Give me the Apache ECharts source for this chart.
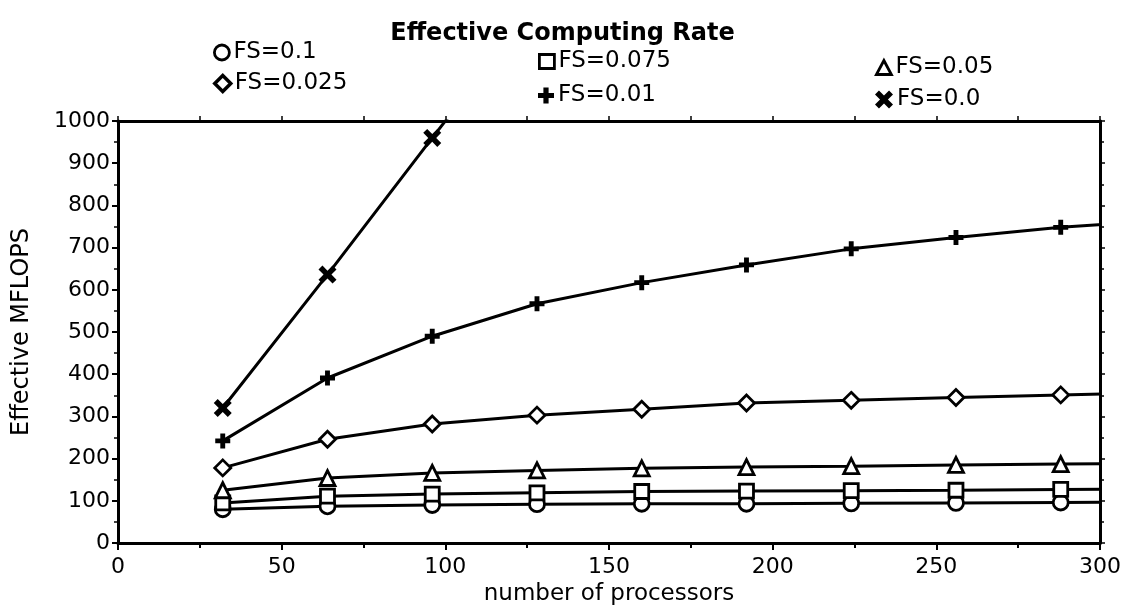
<!DOCTYPE html>
<html>
<head>
<meta charset="utf-8">
<script src="https://cdn.jsdelivr.net/npm/echarts@6/dist/echarts.min.js"></script>
<style>
html,body{margin:0;padding:0;background:#fff;}
#chart{width:1125px;height:616px;}
</style>
</head>
<body>
<div id="chart"></div>
<script>
// ---- data ----
const processors = [32, 64, 96, 128, 160, 192, 224, 256, 288, 320];
const fs0100 = [80, 87, 90, 92, 93, 93, 94, 95, 96, 97];
const fs0075 = [95, 111, 116, 119, 122, 123, 124, 125, 127, 128];
const fs0050 = [125, 154, 166, 172, 177, 180, 182, 185, 187, 189];
const fs0025 = [178, 246, 282, 303, 317, 332, 338, 345, 351, 357];
const fs0010 = [242, 391, 490, 567, 617, 659, 697, 724, 748, 765];
const fs0000 = [320, 636, 960, 1280];
const seriesNames = ['FS=0.1', 'FS=0.075', 'FS=0.05', 'FS=0.025', 'FS=0.01', 'FS=0.0'];
const xTicks = [0, 50, 100, 150, 200, 250, 300];
const yTicks = [0, 100, 200, 300, 400, 500, 600, 700, 800, 900, 1000];

const FONT = 'DejaVu Sans';
const PLUS = 'path://M2.7,0 H5.3 V2.7 H8 V5.3 H5.3 V8 H2.7 V5.3 H0 V2.7 H2.7 Z';
const CROSS = 'path://M0,2.2 L2.2,0 L5,2.8 L7.8,0 L10,2.2 L7.2,5 L10,7.8 L7.8,10 L5,7.2 L2.2,10 L0,7.8 L2.8,5 Z';

function pairs(vals) { return vals.map((v, i) => [processors[i], v]); }

const hollow = {color: '#fff', borderColor: '#000', borderWidth: 2.8};
const filled = {color: '#000', borderColor: '#000', borderWidth: 0};

function mkSeries(name, vals, symbol, size, style) {
  return {
    name: name, type: 'line', data: pairs(vals),
    symbol: symbol, symbolSize: size, showAllSymbol: true,
    clip: true,
    lineStyle: {color: '#000', width: 3},
    itemStyle: style,
    emphasis: {disabled: true},
    z: 3
  };
}

function mkLegend(name, icon, left, centerY, style, w, h) {
  return {
    data: [{name: name, icon: icon}],
    left: left, top: centerY - 13, padding: 0,
    itemWidth: w, itemHeight: h, itemGap: 0,
    selectedMode: false,
    itemStyle: style,
    textStyle: {fontFamily: FONT, fontSize: 23, color: '#000', padding: [0, 0, 0, -1]}
  };
}

const chart = echarts.init(document.getElementById('chart'), null, {renderer: 'canvas'});
chart.setOption({
  animation: false,
  backgroundColor: '#fff',
  title: {
    text: 'Effective Computing Rate', left: 'center', top: 22,
    textStyle: {fontFamily: FONT, fontWeight: 'bold', fontSize: 24, color: '#000'},
    padding: 0, itemGap: 0
  },
  legend: [
    mkLegend(seriesNames[0], 'circle', 213, 54, hollow, 15, 15),
    mkLegend(seriesNames[3], 'diamond', 213, 85, {color: '#fff', borderColor: '#000', borderWidth: 3.5}, 16, 16),
    mkLegend(seriesNames[1], 'rect', 538, 63, hollow, 15, 14),
    mkLegend(seriesNames[4], PLUS, 538, 97, filled, 16, 16),
    mkLegend(seriesNames[2], 'triangle', 875, 69, hollow, 15, 14),
    mkLegend(seriesNames[5], CROSS, 875, 101, filled, 18, 18)
  ],
  grid: {left: 118, right: 25, top: 121, bottom: 73, containLabel: false},
  xAxis: [{
    type: 'value', min: xTicks[0], max: xTicks[xTicks.length - 1], interval: 50,
    position: 'bottom',
    name: 'number of processors', nameLocation: 'middle', nameGap: 36,
    nameTextStyle: {fontFamily: FONT, fontSize: 23, color: '#000'},
    axisLine: {show: true, onZero: false, lineStyle: {color: '#000', width: 3}},
    axisTick: {show: true, inside: false, length: 7, lineStyle: {color: '#000', width: 2}},
    minorTick: {show: true, splitNumber: 2, length: 5, lineStyle: {color: '#000', width: 2}},
    axisLabel: {fontFamily: FONT, fontSize: 22, color: '#000', margin: 13},
    splitLine: {show: false}
  }, {
    type: 'value', min: xTicks[0], max: xTicks[xTicks.length - 1], interval: 50,
    position: 'top',
    axisLine: {show: true, onZero: false, lineStyle: {color: '#000', width: 3}},
    axisTick: {show: true, inside: false, length: 5, lineStyle: {color: '#000', width: 1.5}},
    minorTick: {show: true, splitNumber: 2, length: 5, lineStyle: {color: '#000', width: 1.5}},
    axisLabel: {show: false},
    splitLine: {show: false}
  }],
  yAxis: [{
    type: 'value', min: yTicks[0], max: yTicks[yTicks.length - 1], interval: 100,
    position: 'left',
    name: 'Effective MFLOPS', nameLocation: 'middle', nameGap: 84,
    nameTextStyle: {fontFamily: FONT, fontSize: 24, color: '#000'},
    axisLine: {show: true, onZero: false, lineStyle: {color: '#000', width: 3}},
    axisTick: {show: true, inside: false, length: 6, lineStyle: {color: '#000', width: 2}},
    minorTick: {show: true, splitNumber: 2, length: 4, lineStyle: {color: '#000', width: 1.5}},
    axisLabel: {fontFamily: FONT, fontSize: 22, color: '#000', margin: 8,
                formatter: function (v) { return String(v); }},
    splitLine: {show: false}
  }, {
    type: 'value', min: yTicks[0], max: yTicks[yTicks.length - 1], interval: 100,
    position: 'right',
    axisLine: {show: true, onZero: false, lineStyle: {color: '#000', width: 3}},
    axisTick: {show: true, inside: false, length: 5, lineStyle: {color: '#000', width: 1.5}},
    minorTick: {show: true, splitNumber: 2, length: 4, lineStyle: {color: '#000', width: 1.5}},
    axisLabel: {show: false},
    splitLine: {show: false}
  }],
  series: [
    mkSeries(seriesNames[0], fs0100, 'circle', 15, hollow),
    mkSeries(seriesNames[1], fs0075, 'rect', 14, hollow),
    mkSeries(seriesNames[2], fs0050, 'triangle', 15, hollow),
    mkSeries(seriesNames[3], fs0025, 'diamond', 16, hollow),
    mkSeries(seriesNames[4], fs0010, PLUS, 15, filled),
    mkSeries(seriesNames[5], fs0000, CROSS, 18, filled)
  ]
});
</script>
</body>
</html>
